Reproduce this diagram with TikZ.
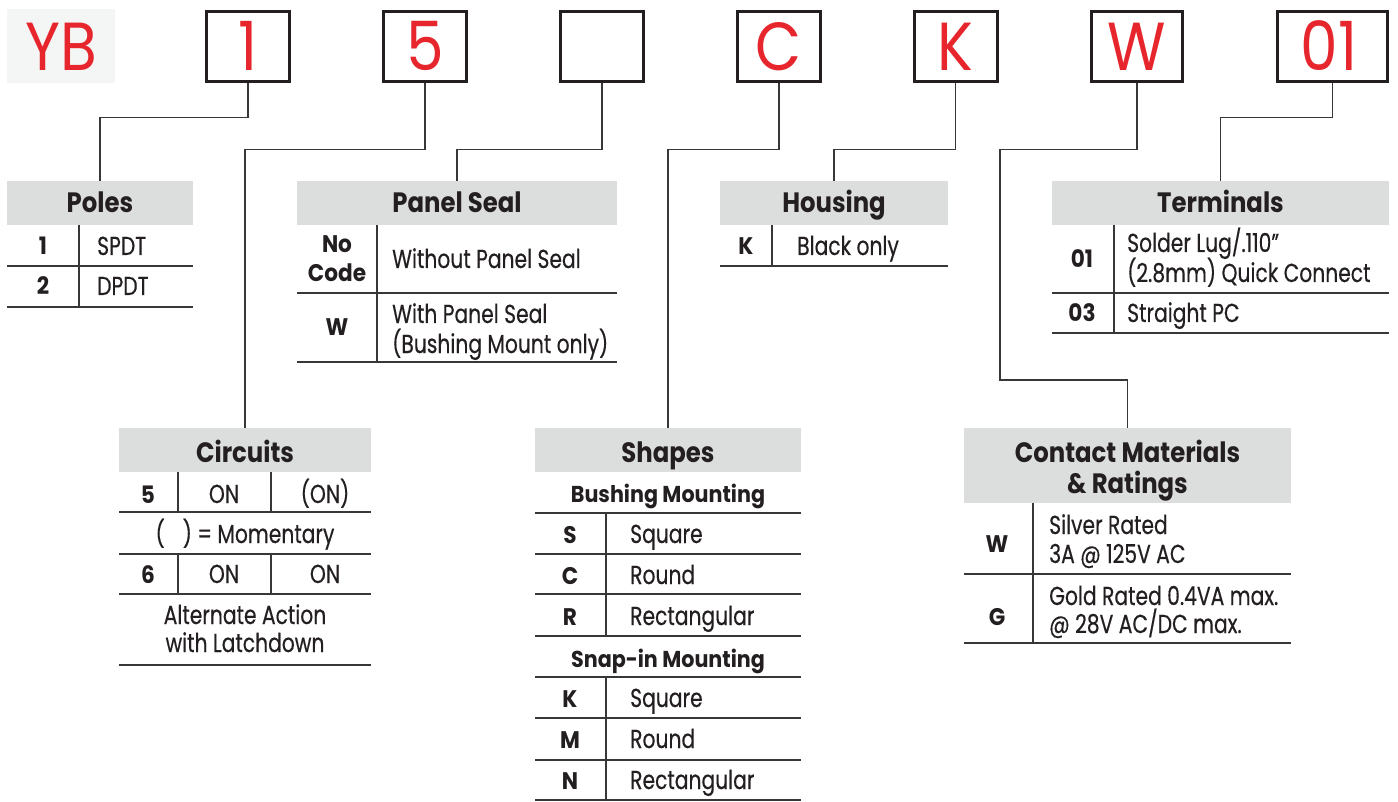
\documentclass[tikz,border=0pt]{standalone}
\usepackage{fontspec}
\setmainfont{Poppins}[FakeStretch=0.78]
\newfontfamily\bodyfam{Poppins}[FakeStretch=0.78,FakeBold=0.4,Ligatures=TeX]
\newfontfamily\hfam{Poppins}[FakeStretch=0.87,Ligatures=TeX]
\newfontfamily\subfam{Poppins}[FakeStretch=0.9,Ligatures=TeX]
\newfontfamily\bigfam{Poppins}[FakeStretch=0.88]
\definecolor{hdrgray}{RGB}{220,221,221}
\definecolor{ybbg}{RGB}{244,245,245}
\definecolor{redc}{RGB}{230,38,44}
\definecolor{txtc}{RGB}{35,31,32}
\definecolor{linec}{RGB}{55,55,55}
\newcommand{\bodyf}{\bodyfam\fontsize{26}{30}\selectfont}
\newcommand{\hdrf}{\hfam\fontsize{28}{32}\bfseries\selectfont}
\newcommand{\subf}{\subfam\fontsize{23}{28}\bfseries\selectfont}
\newcommand{\codef}{\subfam\fontsize{24}{28}\bfseries\selectfont}
\newcommand{\bigf}{\bigfam\fontsize{68}{72}\selectfont}
\begin{document}
\begin{tikzpicture}[x=1pt,y=-1pt,
  codebox/.style={draw=txtc,line width=3pt,minimum width=83pt,minimum height=70pt,inner sep=0pt},
  bigtxt/.style={anchor=base,inner sep=0pt,text=redc,font=\bigf},
  hdr/.style={fill=hdrgray,draw=none,inner sep=0pt},
  htxt/.style={anchor=base,inner sep=0pt,text=txtc,font=\hdrf},
  stxt/.style={anchor=base,inner sep=0pt,text=txtc,font=\subf},
  ctxt/.style={anchor=base,inner sep=0pt,text=txtc,font=\codef},
  dtxt/.style={anchor=base west,inner sep=0pt,text=txtc,font=\bodyf},
  mtxt/.style={anchor=base,inner sep=0pt,text=txtc,font=\bodyf},
  tline/.style={draw=linec,line width=1.6pt},
  conn/.style={draw=linec,line width=1.4pt}]
\useasboundingbox (0,0) rectangle (1398,802);
% ---------- code boxes ----------
\node[fill=ybbg,minimum width=108pt,minimum height=74pt,inner sep=0pt] (yb) at (61,46) {};
\node[bigtxt] (ybt) at (61,71) {YB};
\node[codebox] (b1) at (248,46.5) {};
\node[codebox] (b2) at (425,46.5) {};
\node[codebox] (b3) at (602,46.5) {};
\node[codebox] (b4) at (779,46.5) {};
\node[codebox] (b5) at (955.5,46.5) {};
\node[codebox,minimum width=91pt] (b6) at (1137,46.5) {};
\node[codebox,minimum width=110pt] (b7) at (1332.5,46.5) {};
\node[bigtxt] (t1) at (248,71) {1};
\node[bigtxt] (t2) at (425,71) {5};
\node[bigtxt] (t4) at (779,71) {C};
\node[bigtxt] (t5) at (955.5,71) {K};
\node[bigtxt] (t6) at (1137,71) {W};
\node[bigtxt] (t7) at (1329,71) {01};
% ---------- headers ----------
\node[hdr,minimum width=186pt,minimum height=44pt] (hPoles) at (100,203) {};
\node[htxt] (hPolesT) at (100,213) {Poles};
\node[hdr,minimum width=320pt,minimum height=44pt] (hSeal) at (457,203) {};
\node[htxt] (hSealT) at (457,213) {Panel Seal};
\node[hdr,minimum width=228pt,minimum height=44pt] (hHous) at (834,203) {};
\node[htxt] (hHousT) at (834,213) {Housing};
\node[hdr,minimum width=337pt,minimum height=44pt] (hTerm) at (1220.5,203) {};
\node[htxt] (hTermT) at (1220.5,213) {Terminals};
\node[hdr,minimum width=252pt,minimum height=44pt] (hCirc) at (245,450) {};
\node[htxt] (hCircT) at (245,462) {Circuits};
\node[hdr,minimum width=266pt,minimum height=44pt] (hShape) at (668,450) {};
\node[htxt] (hShapeT) at (668,462) {Shapes};
\node[hdr,minimum width=327pt,minimum height=75pt] (hCont) at (1127.5,465.5) {};
\node[htxt] (hContT1) at (1127.5,462) {Contact Materials};
\node[htxt] (hContT2) at (1127.5,493) {\& Ratings};
% ---------- connectors ----------
\coordinate (wturn) at (1000,380);
\draw[conn] (b1.south) -- ++(0,34.5) -| (hPoles.north);
\draw[conn] (b2.south) -- ++(0,66.5) -| (hCirc.north);
\draw[conn] (b3.south) -- ++(0,66.5) -| (hSeal.north);
\draw[conn] (b4.south) -- ++(0,66.5) -| (hShape.north);
\draw[conn] (b5.south) -- ++(0,66.5) -| (hHous.north);
\draw[conn] (b6.south) -- ++(0,66.5) -| (wturn) -| (hCont.north);
\draw[conn] (b7.south) -- ++(0,34.5) -| (hTerm.north);
% ---------- Poles ----------
\draw[tline] (7,266) -- (193,266) (7,307) -- (193,307) (79,225) -- (79,307);
\node[ctxt] (p1) at (43,255) {1};
\node[dtxt] (p1d) at (97,255) {SPDT};
\node[ctxt] (p2) at (43,295) {2};
\node[dtxt] (p2d) at (97,295) {DPDT};
% ---------- Panel Seal ----------
\draw[tline] (297,293) -- (617,293) (297,362) -- (617,362) (377,225) -- (377,362);
\node[ctxt] (s1a) at (337,253) {No};
\node[ctxt] (s1b) at (337,282) {Code};
\node[dtxt] (s1d) at (392,268) {Without Panel Seal};
\node[ctxt] (s2) at (337,336) {W};
\node[dtxt] (s2a) at (392,323) {With Panel Seal};
\node[dtxt] (s2b) at (392,353) {(Bushing Mount only)};
% ---------- Housing ----------
\draw[tline] (720,266) -- (948,266) (772,225) -- (772,266);
\node[ctxt] (k1) at (746,255) {K};
\node[dtxt] (k1d) at (797,255) {Black only};
% ---------- Terminals ----------
\draw[tline] (1052,293) -- (1389,293) (1052,333) -- (1389,333) (1114,225) -- (1114,333);
\node[ctxt] (r1) at (1082,268) {01};
\node[dtxt] (r1a) at (1127,252) {Solder Lug/.110”};
\node[dtxt] (r1b) at (1127,282) {(2.8mm) Quick Connect};
\node[ctxt] (r2) at (1082,322) {03};
\node[dtxt] (r2d) at (1127,322) {Straight PC};
% ---------- Circuits ----------
\draw[tline] (119,512) -- (371,512) (119,554) -- (371,554) (119,594) -- (371,594) (119,665) -- (371,665);
\draw[tline] (178,472) -- (178,512) (271,472) -- (271,512) (178,554) -- (178,594) (271,554) -- (271,594);
\node[ctxt] (c5) at (148,503) {5};
\node[mtxt] (c5a) at (224,503) {ON};
\node[mtxt] (c5b) at (325,503) {(ON)};
\node[mtxt] (cm) at (245,543) {(\hspace{18pt}) = Momentary};
\node[ctxt] (c6) at (148,583) {6};
\node[mtxt] (c6a) at (224,583) {ON};
\node[mtxt] (c6b) at (325,583) {ON};
\node[mtxt] (cl1) at (245,624) {Alternate Action};
\node[mtxt] (cl2) at (245,652) {with Latchdown};
% ---------- Shapes ----------
\node[stxt] (sbm) at (668,502) {Bushing Mounting};
\node[stxt] (ssm) at (668,667) {Snap-in Mounting};
\draw[tline] (535,513) -- (801,513) (535,554) -- (801,554) (535,594) -- (801,594) (535,636) -- (801,636);
\draw[tline] (535,677) -- (801,677) (535,718) -- (801,718) (535,760) -- (801,760) (535,800) -- (801,800);
\draw[tline] (606,513) -- (606,636) (606,677) -- (606,800);
\node[ctxt] (sS) at (570,543) {S};
\node[dtxt] (sSd) at (630,543) {Square};
\node[ctxt] (sC) at (570,584) {C};
\node[dtxt] (sCd) at (630,584) {Round};
\node[ctxt] (sR) at (570,625) {R};
\node[dtxt] (sRd) at (630,625) {Rectangular};
\node[ctxt] (sK) at (570,707) {K};
\node[dtxt] (sKd) at (630,707) {Square};
\node[ctxt] (sM) at (570,748) {M};
\node[dtxt] (sMd) at (630,748) {Round};
\node[ctxt] (sN) at (570,789) {N};
\node[dtxt] (sNd) at (630,789) {Rectangular};
% ---------- Contact ----------
\draw[tline] (964,574) -- (1291,574) (964,643) -- (1291,643) (1033,503) -- (1033,643);
\node[ctxt] (mW) at (997,552) {W};
\node[dtxt] (mWa) at (1049,534) {Silver Rated};
\node[dtxt] (mWb) at (1049,563) {3A @ 125V AC};
\node[ctxt] (mG) at (997,625) {G};
\node[dtxt] (mGa) at (1049,605) {Gold Rated 0.4VA max.};
\node[dtxt] (mGb) at (1049,633) {@ 28V AC/DC max.};
\end{tikzpicture}
\end{document}
